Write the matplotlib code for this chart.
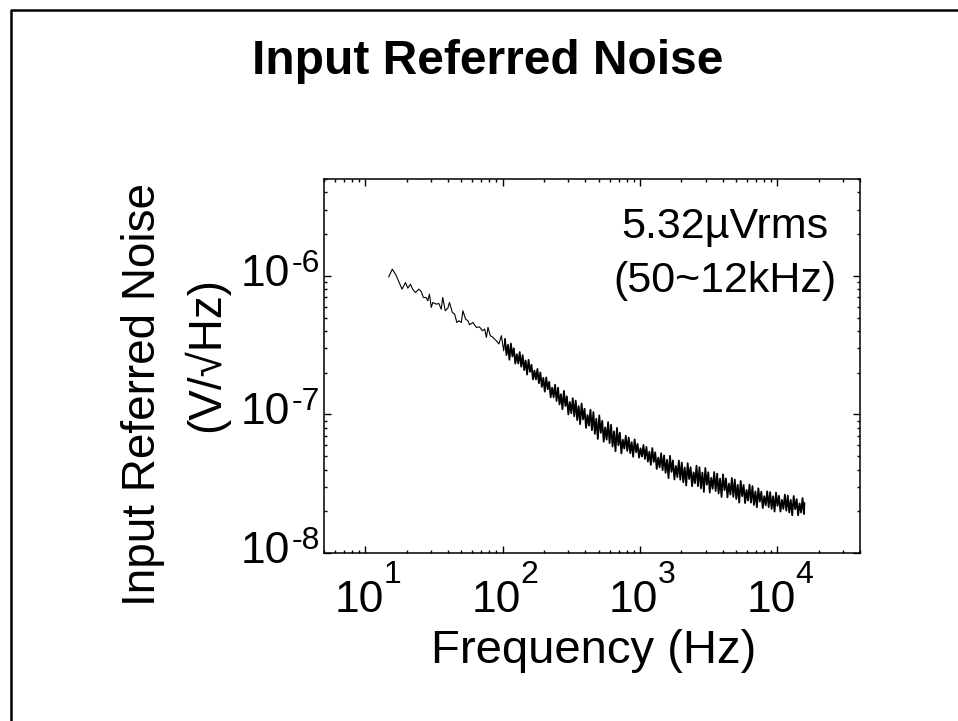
import matplotlib
matplotlib.use("Agg")
import matplotlib.pyplot as plt
from matplotlib.lines import Line2D
from matplotlib.ticker import NullFormatter
from matplotlib.transforms import offset_copy
import numpy as np

plt.rcParams['font.family'] = ['Liberation Sans', 'DejaVu Sans']

freq_hz = [14.8, 15.7, 16.7, 18.5, 19.6, 20.4, 21.3, 22.1, 23.2, 24.5,
           25.5, 26.5, 27.7, 28.5, 29.3, 30.2, 31.0, 32.8, 34.3, 35.7,
           36.6, 38.2, 39.9, 41.0, 43.0, 44.7, 46.4, 48.0, 50.0, 51.3,
           53.7, 55.8, 57.4, 60.7, 64.3, 67.9, 71.1, 74.0, 76.1, 78.2,
           81.3, 85.0, 89.9, 94.0, 97.9, 101.7,
           104, 106.6, 109.3, 112, 114.8, 117.7, 120.6, 123.6, 126.7, 129.9,
           133.1, 136.5, 139.9, 143.4, 147, 150.6, 154.4, 158.3, 162.2, 166.3,
           170.4, 174.7, 179.1, 183.5, 188.1, 192.8, 197.7, 202.6, 207.7, 212.9,
           218.2, 223.6, 229.2, 235, 240.8, 246.9, 253.1, 259.4, 265.9, 272.5,
           279.3, 286.3, 293.5, 300.8, 308.4, 316.1, 324, 332.1, 340.4, 348.9,
           357.6, 366.6, 375.7, 385.1, 394.8, 404.6, 414.8, 425.1, 435.8, 446.7,
           457.8, 469.3, 481, 493, 505.3, 518, 531, 544.2, 557.8, 571.8,
           586.1, 600.7, 615.7, 631.1, 646.9, 663.1, 679.7, 696.6, 714, 731.9,
           750.2, 768.9, 788.2, 807.9, 828.1, 848.8, 870, 891.7, 914, 936.9,
           960.3, 984.3, 1009, 1034, 1060, 1086, 1114, 1141, 1170, 1199,
           1229, 1260, 1291, 1324, 1357, 1391, 1426, 1461, 1498, 1535,
           1574, 1613, 1653, 1695, 1737, 1781, 1825, 1871, 1918, 1966,
           2015, 2065, 2117, 2170, 2224, 2280, 2337, 2395, 2455, 2516,
           2579, 2644, 2710, 2778, 2847, 2918, 2991, 3066, 3143, 3221,
           3302, 3384, 3469, 3556, 3645, 3736, 3829, 3925, 4023, 4124,
           4227, 4332, 4441, 4552, 4665, 4782, 4901, 5024, 5150, 5278,
           5410, 5545, 5684, 5826, 5972, 6121, 6274, 6431, 6592, 6757,
           6926, 7099, 7276, 7458, 7645, 7836, 8032, 8232, 8438, 8649,
           8865, 9087, 9314, 9547, 9786, 10030, 10280, 10540, 10800, 11070,
           11350, 11630, 11920, 12220, 12530, 12840, 13160, 13490, 13830, 14170,
           14530, 14890, 15260, 15640, 15740]

noise_nv = [984, 1117, 1016, 802, 895, 815, 871, 802, 758, 802,
            771, 698, 698, 661, 738, 592, 643, 625, 632, 575,
            698, 560, 585, 643, 545, 530, 461, 474, 461, 560,
            488, 474, 444, 461, 425, 428, 402, 413, 360, 425,
            370, 360, 340, 323, 370, 288,
            349, 268, 318, 248, 325, 262, 300, 233, 272, 233,
            282, 221, 268, 209, 245, 194, 248, 203, 228, 179,
            207, 179, 213, 168, 201, 158, 184, 146, 185, 152,
            172, 133, 156, 133, 164, 125, 156, 118, 140, 109,
            148, 115, 135, 100, 123, 102, 131, 97, 126, 91,
            115, 85, 120, 92, 110, 80, 99, 83, 108, 77,
            104, 72.4, 93.1, 66.5, 98.3, 73.6, 90, 63.6, 80.6, 65.8,
            88, 62.1, 84.2, 58.7, 75.5, 54.2, 80, 59.9, 73.8, 52.3,
            65.7, 56.7, 70.3, 54.5, 68.2, 52.5, 63.1, 49.5, 66.1, 53.4,
            61.3, 48.8, 57, 49.7, 60.3, 47.7, 58.3, 45.7, 53.8, 43.2,
            57.2, 45.4, 53.3, 40.4, 48.8, 41.5, 52.5, 39.6, 50.6, 37.9,
            47.1, 34.7, 50.3, 38.5, 46.6, 33.9, 42.5, 35.3, 46.5, 33.8,
            45, 32.4, 41.4, 30.7, 44.5, 34.2, 41.6, 30.3, 38.2, 31.9,
            42.7, 30.4, 41.6, 29.3, 38.1, 27.6, 41.1, 31.1, 38.3, 27.3,
            34.9, 29.1, 38.4, 28, 37.4, 26.9, 34.4, 25.4, 37, 28.4,
            34.5, 25.2, 31.7, 26.4, 34.8, 25.4, 33.9, 24.5, 31.1, 23.1,
            33.1, 25.7, 31, 22.9, 28.5, 23.9, 31.2, 23.1, 30.4, 22.2,
            27.8, 21.4, 29.3, 23.5, 27.7, 21.1, 25.7, 22.1, 27.9, 21.4,
            27.5, 20.8, 25.7, 19.9, 27.3, 21.9, 25.9, 19.9, 24.2, 20.8,
            26.4, 20.2, 26, 19.6, 24.2, 18.7, 25.8, 20.7, 24.5, 18.7,
            22.8, 19.6, 24.9, 19.1, 22.9]

x_tick_vals = [10, 100, 1000, 10000]
x_tick_exp = ['1', '2', '3', '4']
y_tick_vals = [1e-8, 1e-7, 1e-6]
y_tick_exp = ['-8', '-7', '-6']

title = "Input Referred Noise"
ylabel_1 = "Input Referred Noise"
ylabel_2 = "(V/\u221aHz)"
xlabel = "Frequency (Hz)"
note_1 = "5.32\u00b5Vrms"
note_2 = "(50~12kHz)"

fig = plt.figure(figsize=(9.58, 7.21), dpi=100)
ax = fig.add_axes([0.3382, 0.2330, 0.5595, 0.5187])

noise = np.array(noise_nv) * 1e-9
# sparse low-frequency part is a thin line, the dense part reads as a thick band
ax.loglog(freq_hz[:47], noise[:47], color='black', lw=0.8)
ax.loglog(freq_hz[46:], noise[46:], color='black', lw=1.3)

ax.set_xlim(5, 4e4)
ax.set_ylim(1e-8, 5e-6)

for s in ax.spines.values():
    s.set_linewidth(1.1)
ax.tick_params(which='both', direction='in', top=True, right=True, width=1.0)
ax.tick_params(which='major', length=5)
ax.tick_params(which='minor', length=2.3)
ax.xaxis.set_major_formatter(NullFormatter())
ax.xaxis.set_minor_formatter(NullFormatter())
ax.yaxis.set_major_formatter(NullFormatter())
ax.yaxis.set_minor_formatter(NullFormatter())

# tick labels drawn as base + raised exponent, like the original
xt = ax.get_xaxis_transform()
for v, e in zip(x_tick_vals, x_tick_exp):
    ax.text(v, 0, "10", transform=offset_copy(xt, fig=fig, x=-6.5, y=-27, units='dots'),
            ha='center', va='top', fontsize=32)
    ax.text(v, 0, e, transform=offset_copy(xt, fig=fig, x=18, y=-7, units='dots'),
            ha='left', va='top', fontsize=23)

yt = ax.get_yaxis_transform()
for v, e in zip(y_tick_vals, y_tick_exp):
    ax.text(0, v, "10", transform=offset_copy(yt, fig=fig, x=-34, y=1.5, units='dots'),
            ha='right', va='center', fontsize=32)
    ax.text(0, v, e, transform=offset_copy(yt, fig=fig, x=-32, y=27, units='dots'),
            ha='left', va='top', fontsize=23)

fig.text(594 / 958, 1 - 663 / 721, xlabel, fontsize=34, ha='center', va='baseline')

fig.text(143 / 958, 1 - 394 / 721, ylabel_1, rotation=90, fontsize=33,
         ha='center', va='center')
fig.text(206 / 958, 1 - 355 / 721, ylabel_2, rotation=90, fontsize=33,
         ha='center', va='center')

fig.text(488 / 958, 1 - 61 / 721, title, fontsize=34.5, fontweight='bold',
         ha='center', va='center')

ax.text(0.748, 0.872, note_1, transform=ax.transAxes, fontsize=31,
        ha='center', va='center')
ax.text(0.748, 0.727, note_2, transform=ax.transAxes, fontsize=31,
        ha='center', va='center')

# page frame (top and left edges)
fig.add_artist(Line2D([10.5 / 958, 10.5 / 958, 1.0],
                      [0.0, 1 - 9.5 / 721, 1 - 9.5 / 721],
                      transform=fig.transFigure, color='black', lw=1.8))

fig.savefig("out.png", dpi=100)
